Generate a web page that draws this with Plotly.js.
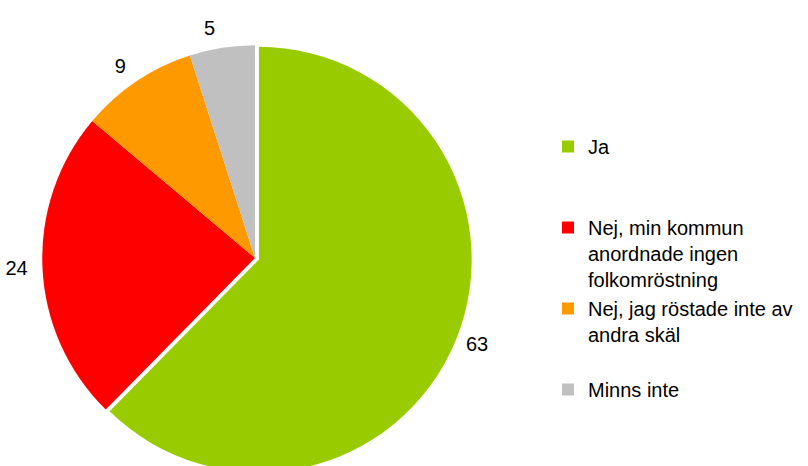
<!DOCTYPE html>
<html><head><meta charset="utf-8">
<script src="https://cdn.plot.ly/plotly-3.0.1.min.js"></script>
<style>html,body{margin:0;padding:0;overflow:hidden;background:#fff}</style>
</head><body>
<div id="chart" style="width:808px;height:490px"></div>
<script>
const categories = ["Ja", "Nej, min kommun anordnade ingen folkomröstning", "Nej, jag röstade inte av andra skäl", "Minns inte"];
const legendLabels = ["Ja<br> <br> ", "Nej, min kommun<br>anordnade ingen<br>folkomröstning", "Nej, jag röstade inte av<br>andra skäl<br> ", "Minns inte"];
const values = [63, 24, 9, 5];
const colors = ["#99CC00", "#FF0000", "#FF9900", "#C0C0C0"];
const pulls = [0.02, 0, 0, 0];

const W = 808, H = 490;
const FONT = "Liberation Sans, Arial, sans-serif";
const cx = 255, cy = 258;      // pie centre (px)
const D1 = 434, D2 = 444;      // pie box and label-ring box sizes (px)
function dom(c, d, total, flip) {
  const a = (c - d / 2) / total, b = (c + d / 2) / total;
  return flip ? [1 - b, 1 - a] : [a, b];
}

Plotly.newPlot("chart", [{
  type: "pie",
  labels: legendLabels,
  values: values,
  sort: false,
  direction: "clockwise",
  rotation: 0,
  pull: pulls,
  marker: {colors: colors, line: {width: 0}},
  textinfo: "none",
  domain: {x: dom(cx, D1, W, false), y: dom(cy, D1, H, true)},
  hoverinfo: "skip"
}, {
  type: "pie",
  labels: legendLabels,
  values: values,
  sort: false,
  direction: "clockwise",
  rotation: 0,
  showlegend: false,
  marker: {colors: ["rgba(0,0,0,0)", "rgba(0,0,0,0)", "rgba(0,0,0,0)", "rgba(0,0,0,0)"], line: {width: 0}},
  textinfo: "value",
  textposition: "outside",
  textfont: {family: FONT, size: 20, color: "#000"},
  domain: {x: dom(cx, D2, W, false), y: dom(cy, D2, H, true)},
  hoverinfo: "skip"
}], {
  width: W, height: H,
  margin: {l: 0, r: 0, t: 0, b: 0},
  paper_bgcolor: "#fff",
  showlegend: true,
  legend: {
    x: 548/W, xanchor: "left", y: 1 - 127/H, yanchor: "top",
    valign: "top",
    font: {family: FONT, size: 20, color: "#000"},
    tracegroupgap: 0, itemclick: false
  },
  font: {family: FONT}
}, {staticPlot: true});
</script>
</body></html>
